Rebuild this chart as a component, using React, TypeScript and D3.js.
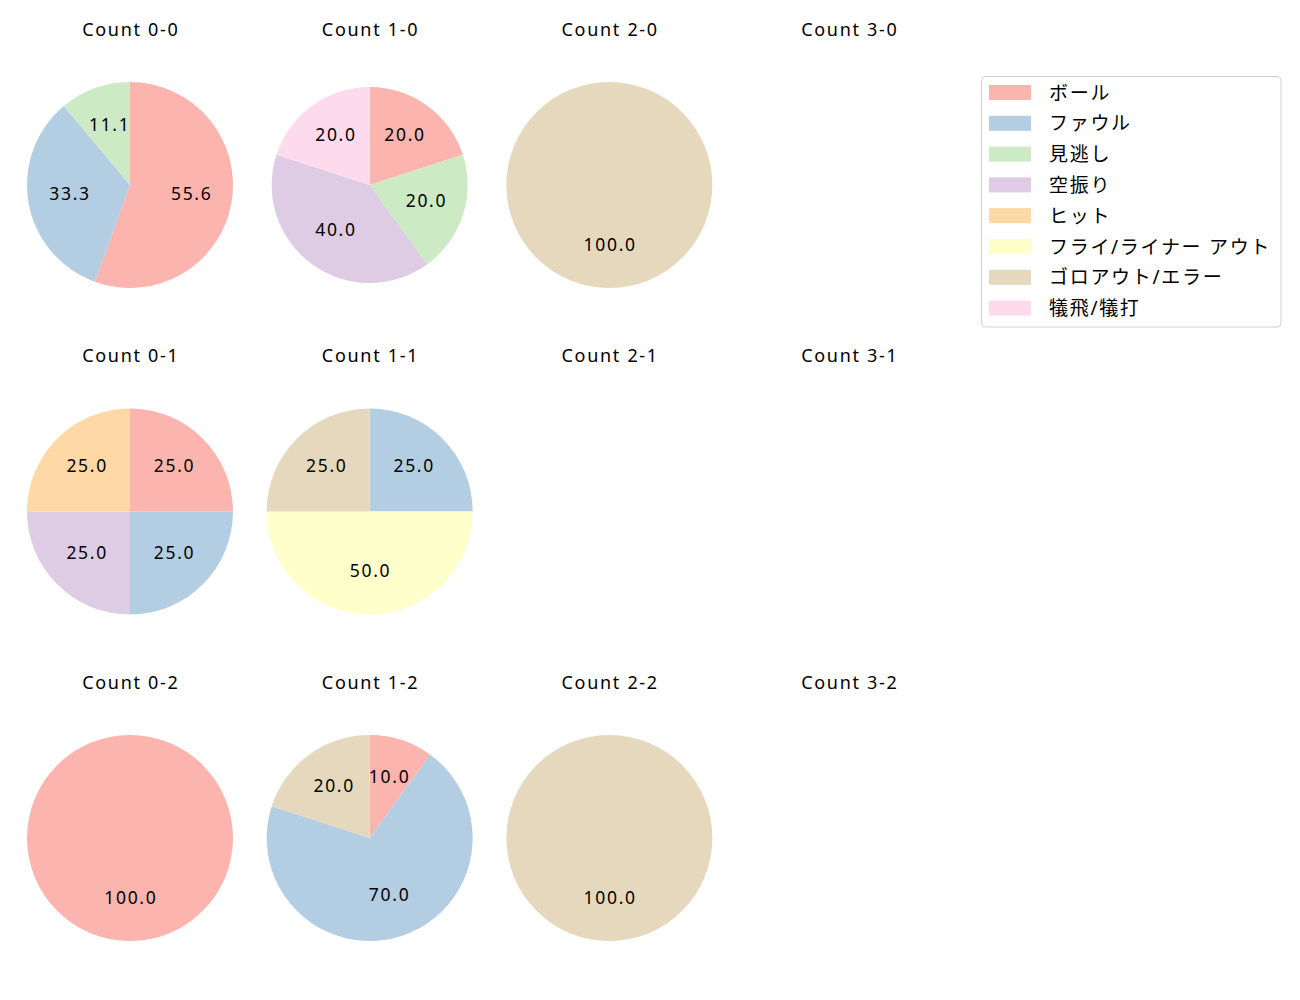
import React from "react";
import * as d3 from "d3";

const categories = ["ボール", "ファウル", "見逃し", "空振り", "ヒット", "フライ/ライナー アウト", "ゴロアウト/エラー", "犠飛/犠打"];
const colors = ["#fbb4ae", "#b3cde3", "#ccebc5", "#decbe4", "#fed9a6", "#ffffcc", "#e5d8bd", "#fddaec"];

const countTitles = [
  ["Count 0-0", "Count 1-0", "Count 2-0", "Count 3-0"],
  ["Count 0-1", "Count 1-1", "Count 2-1", "Count 3-1"],
  ["Count 0-2", "Count 1-2", "Count 2-2", "Count 3-2"],
];

// pitch counts per category (same order as categories)
const count00 = [5, 3, 1, 0, 0, 0, 0, 0];
const count10 = [1, 0, 1, 2, 0, 0, 0, 1];
const count20 = [0, 0, 0, 0, 0, 0, 1, 0];
const count01 = [1, 1, 0, 1, 1, 0, 0, 0];
const count11 = [0, 1, 0, 0, 0, 2, 1, 0];
const count02 = [1, 0, 0, 0, 0, 0, 0, 0];
const count12 = [1, 7, 0, 0, 0, 0, 2, 0];
const count22 = [0, 0, 0, 0, 0, 0, 1, 0];

const grid: (number[] | null)[][] = [
  [count00, count10, count20, null],
  [count01, count11, null, null],
  [count02, count12, count22, null],
];

const FONT = "'Noto Sans', 'Noto Sans CJK JP', sans-serif";
const LS = 1.7;

function Pie({ values, cx, cy, r }: { values: number[]; cx: number; cy: number; r: number }) {
  const total = d3.sum(values);
  const items = values.map((v, i) => ({ v, i })).filter((d) => d.v > 0);
  const pie = d3.pie<{ v: number; i: number }>().value((d) => d.v).sort(null).startAngle(0).endAngle(2 * Math.PI);
  const arcs = pie(items);
  const arc = d3.arc<d3.PieArcDatum<{ v: number; i: number }>>().innerRadius(0).outerRadius(r);
  return (
    <g transform={`translate(${cx},${cy})`}>
      {arcs.map((a) => (
        <path key={a.data.i} d={arc(a) || ""} fill={colors[a.data.i]} />
      ))}
      {arcs.map((a) => {
        const mid = (a.startAngle + a.endAngle) / 2;
        const x = Math.sin(mid) * r * 0.6;
        const y = -Math.cos(mid) * r * 0.6;
        return (
          <text key={"t" + a.data.i} x={x + LS / 2} y={y + 3.8} textAnchor="middle" fontSize={17.5} letterSpacing={LS} fontFamily={FONT} fill="#000">
            {((a.data.v / total) * 100).toFixed(1)}
          </text>
        );
      })}
    </g>
  );
}

export default function App() {
  const colX = d3.scaleLinear().domain([0, 3]).range([130, 849]);
  const rowY = d3.scaleLinear().domain([0, 2]).range([185, 838]);
  const legendX = 982;
  const legendY = 77;
  const rowH = 30.8;
  return (
    <svg width={1300} height={1000} style={{ display: "block", position: "absolute", left: 0, top: 0 }}>
      <rect width={1300} height={1000} fill="#fff" />
      {countTitles.map((row, ri) =>
        row.map((t, ci) => (
          <text key={t} x={colX(ci) + LS / 2} y={rowY(ri) - 149.5} textAnchor="middle" fontSize={18} letterSpacing={LS} fontFamily={FONT} fill="#000">
            {t}
          </text>
        ))
      )}
      {grid.map((row, ri) =>
        row.map((vals, ci) =>
          vals ? <Pie key={`${ri}-${ci}`} values={vals} cx={colX(ci)} cy={rowY(ri)} r={ri === 0 && ci === 1 ? 98 : 103} /> : null
        )
      )}
      <rect x={legendX - 0.5} y={legendY - 0.5} width={299.5} height={250.5} rx={4} fill="#fff" stroke="#d0d0d0" strokeWidth={1} />
      {categories.map((c, i) => (
        <g key={c} transform={`translate(${legendX}, ${legendY + 15.5 + i * rowH})`}>
          <rect x={7} y={-7.5} width={42} height={15} fill={colors[i]} />
          <text x={67} y={0} dominantBaseline="central" fontSize={19} letterSpacing={LS} fontFamily={FONT} fill="#000">
            {c}
          </text>
        </g>
      ))}
    </svg>
  );
}
